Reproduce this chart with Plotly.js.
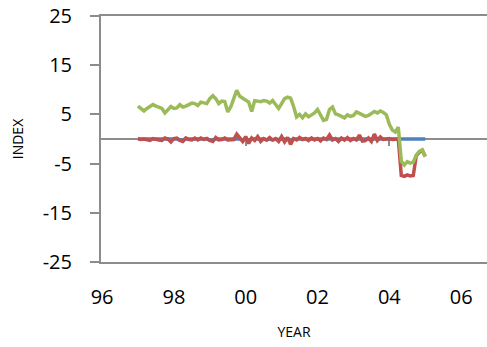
<!DOCTYPE html>
<html>
<head>
<meta charset="utf-8">
<script src="https://cdn.plot.ly/plotly-3.0.1.min.js"></script>
<style>html,body{margin:0;padding:0;background:#fff;}#chart{width:487px;height:347px;}</style>
</head>
<body>
<div id="chart"></div>
<script>
// Monthly series, Jan 1997 .. Jan 2005 (year axis in two-digit form: 97 = 1997)
var startYear = 97;
var green = [6.7,6.1,5.7,6.2,6.7,7.0,6.7,6.4,6.2,5.3,
             6.0,6.6,6.2,6.3,7.0,6.5,6.7,7.1,7.3,7.2,
             6.8,7.5,7.4,7.2,8.2,8.8,8.2,7.2,7.7,7.6,
             5.5,6.5,8.2,9.9,8.7,8.3,7.9,7.5,5.6,7.8,
             7.7,7.6,7.8,7.7,7.3,7.8,7.0,6.2,7.2,8.2,
             8.5,8.3,6.6,4.5,5.0,4.3,5.1,4.5,4.9,5.3,
             6.0,5.0,3.8,4.0,6.0,6.5,5.1,4.9,4.5,4.3,
             4.9,4.6,4.8,5.5,5.2,4.9,4.6,4.8,5.2,5.6,
             5.3,5.7,5.4,4.9,3.0,1.8,1.4,2.4,-4.5,-5.3,
             -4.6,-4.9,-4.7,-3.3,-2.5,-2.2,-3.6];
var red = [0.1,-0.1,0.0,-0.2,-0.3,0.1,-0.1,-0.2,-0.3,0.2,
           0.0,-0.6,0.1,0.2,-0.3,-0.5,0.2,-0.1,-0.2,0.2,
           -0.2,0.2,-0.1,0.1,-0.3,-0.5,0.3,-0.2,-0.1,0.2,
           -0.2,-0.1,-0.1,1.0,0.1,-0.5,0.5,-0.9,0.2,-0.3,
           0.5,-0.5,0.1,-0.2,0.3,-0.2,0.1,-0.5,0.5,-0.6,
           0.3,-1.1,0.1,-0.2,0.3,-0.1,0.1,-0.3,0.2,-0.2,
           0.1,-0.4,0.2,-0.1,0.8,-0.2,0.1,-0.5,0.2,-0.2,
           0.3,-0.3,0.1,-0.2,0.8,-0.4,-0.3,0.2,-0.5,1.0,
           -0.3,0.4,-0.1,0.0,0.1,-0.1,0.0,0.0,-7.4,-7.6,
           -7.3,-7.5,-7.4,-3.4,-2.7,-2.3,-3.5];
var blue = [0.0,0.0,-0.1,0.0,0.0,0.0,-0.1,0.0,0.0,0.0,
            0.0,-0.1,0.0,0.0,-0.2,-0.2,0.0,0.0,0.0,0.0,
            -0.1,0.0,0.0,0.0,-0.2,-0.2,0.0,0.0,0.0,0.0,
            0.0,0.0,0.0,0.0,0.0,-0.2,0.0,-0.2,0.0,0.0,
            0.0,-0.1,0.0,-0.2,0.0,-0.2,0.0,-0.1,0.0,0.0,
            0.0,-0.2,0.0,0.0,0.0,0.0,0.0,-0.1,0.0,0.0,
            0.0,-0.1,0.0,0.0,0.0,0.0,0.0,-0.1,0.0,0.0,
            0.0,0.0,0.0,0.0,0.0,0.0,0.0,0.0,0.0,0.0,
            0.0,0.0,0.0,0.0,0.0,0.0,0.0,0.0,0.0,0.0,
            0.0,0.0,0.0,0.0,0.0,0.0,0.0];
var xTickVals = [96, 98, 100, 102, 104, 106];
var xTickText = ['96', '98', '00', '02', '04', '06'];
var yTickVals = [-25, -15, -5, 5, 15, 25];
var yTickText = ['-25', '-15', '-5', '5', '15', '25'];
var midTicks = [100, 104];

var months = green.map(function (_, i) { return startYear + i / 12; });

var AX = '#8c8c8c';
var FONT = 'Open Sans, Liberation Sans, sans-serif';

var traces = [
  {x: months, y: blue, mode: 'lines', line: {color: '#4F81BD', width: 3.5}, hoverinfo: 'skip'},
  {x: months, y: red, mode: 'lines', line: {color: '#C0504D', width: 3.5}, hoverinfo: 'skip'},
  {x: months, y: green, mode: 'lines', line: {color: '#9BBB59', width: 3.5}, hoverinfo: 'skip'},
  {x: [midTicks[0]], y: [0], xaxis: 'x2', mode: 'lines', line: {width: 0}, hoverinfo: 'skip'}
];

var layout = {
  width: 487, height: 347,
  margin: {l: 101, r: 0, t: 16, b: 85},
  paper_bgcolor: '#fff', plot_bgcolor: '#fff',
  showlegend: false,
  font: {family: FONT, color: '#000'},
  xaxis: {
    range: [95.97, 106.72],
    tickvals: xTickVals, ticktext: xTickText,
    showgrid: false, zeroline: false,
    showline: true, mirror: true, linecolor: AX, linewidth: 2,
    ticks: '', ticklabelstandoff: 16,
    tickfont: {size: 20, family: FONT, color: '#000'},
    title: {text: 'YEAR', font: {size: 14, family: FONT, color: '#000'}, standoff: 18}
  },
  xaxis2: {
    range: [95.97, 106.72], overlaying: 'x', anchor: 'free', position: 0.5,
    tickvals: midTicks, showticklabels: false,
    ticks: 'outside', ticklen: 6, tickwidth: 2, tickcolor: AX,
    showline: false, showgrid: false, zeroline: false, layer: 'below traces'
  },
  yaxis: {
    range: [-25, 25],
    tickvals: yTickVals, ticktext: yTickText,
    showgrid: false,
    zeroline: true, zerolinecolor: AX, zerolinewidth: 2,
    showline: true, linecolor: AX, linewidth: 2,
    ticks: 'outside', ticklen: 9, tickwidth: 2, tickcolor: AX,
    ticklabelstandoff: 14,
    tickfont: {size: 20, family: FONT, color: '#000'},
    title: {text: 'INDEX', font: {size: 14, family: FONT, color: '#000'}, standoff: 16}
  }
};

Plotly.newPlot('chart', traces, layout, {staticPlot: true, displayModeBar: false});
</script>
</body>
</html>
